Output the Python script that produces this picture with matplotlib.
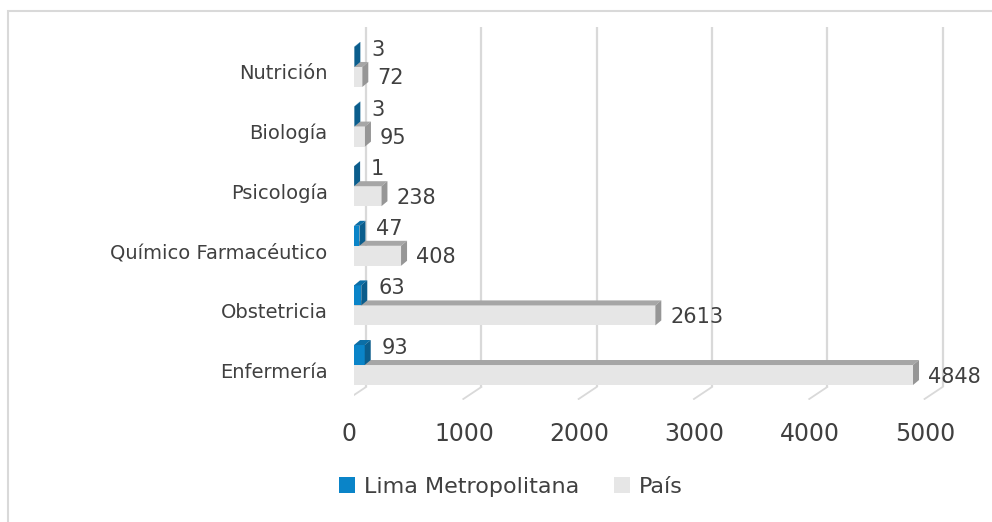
import numpy as np
import matplotlib.pyplot as plt
from matplotlib.patches import Polygon, Rectangle, Patch

categorias = ['Enfermería', 'Obstetricia', 'Químico Farmacéutico',
              'Psicología', 'Biología', 'Nutrición']
lima = [93, 63, 47, 1, 3, 3]
pais = [4848, 2613, 408, 238, 95, 72]
ticks = [0, 1000, 2000, 3000, 4000, 5000]

W, H = 992, 522
TXT = '#404040'

fig = plt.figure(figsize=(W / 100, H / 100), dpi=100)
ax = fig.add_axes([354 / W, 122 / H, 599.6 / W, 380 / H])
ax.set_xlim(0, 5200)
ax.set_ylim(-0.503, 5.872)
ax.patch.set_visible(False)
for s in ax.spines.values():
    s.set_visible(False)
ax.set_xticks([])

# un pixel en unités de données
ux = 5200 / 599.6
uy = 6.375 / 380

# mur du fond + sol (effet 3D)
for v in ticks:
    xb = v + 12 * ux
    ax.plot([xb, xb], [343 * uy, -17 * uy], color='#d9d9d9', lw=1.6, zorder=1,
            solid_capstyle='butt')
    ax.plot([xb, xb - 18 * ux], [-17 * uy, -29 * uy], color='#d9d9d9', lw=1.3, zorder=1)
    ax.text(v - 45, -64 * uy, str(v), ha='center', va='center', fontsize=17, color=TXT)


def bar3d(x1, y0, y1, front, top, side, z):
    dx, dy = 6 * ux, 5 * uy
    ax.add_patch(Rectangle((0, y0), x1, y1 - y0, fc=front, ec='none', zorder=z))
    ax.add_patch(Polygon([(0, y1), (x1, y1), (x1 + dx, y1 + dy), (dx, y1 + dy)],
                         closed=True, fc=top, ec='none', zorder=z))
    ax.add_patch(Polygon([(x1, y0), (x1, y1), (x1 + dx, y1 + dy), (x1 + dx, y0 + dy)],
                         closed=True, fc=side, ec='none', zorder=z))


for i in range(len(categorias)):
    # País
    bar3d(pais[i], i - 15 * uy, i + 5 * uy, '#e6e6e6', '#a6a6a6', '#969696', 2)
    # Lima Metropolitana
    bar3d(lima[i], i + 5 * uy, i + 25 * uy, '#0a84c8', '#0b6ea6', '#0b5d8c', 3)
    ax.text(pais[i] + 15 * ux, i - 6.5 * uy, str(pais[i]), ha='left', va='center',
            fontsize=15, color=TXT, zorder=4)
    ax.text(lima[i] + 17 * ux, i + 22 * uy, str(lima[i]), ha='left', va='center',
            fontsize=15, color=TXT, zorder=4)

ax.set_yticks(range(len(categorias)))
ax.set_yticklabels(categorias, fontsize=14, color=TXT)
ax.tick_params(axis='y', length=0, pad=19)

handles = [Patch(fc='#0a84c8', ec='none'), Patch(fc='#e6e6e6', ec='none')]
fig.legend(handles, ['Lima Metropolitana', 'País'], loc='center',
           bbox_to_anchor=(511 / W, 1 - 487 / H), ncol=2, frameon=False,
           fontsize=16, labelcolor=TXT, handlelength=0.7, handleheight=0.7,
           handletextpad=0.4, columnspacing=1.6)

# cadre gris clair (coupé à droite et en bas)
fig.patches.append(Rectangle((7.5 / W, -0.1), 1.2, 1.1 - 11 / H, transform=fig.transFigure,
                             fill=False, ec='#d9d9d9', lw=1.5))

fig.savefig('out.png', dpi=100)
